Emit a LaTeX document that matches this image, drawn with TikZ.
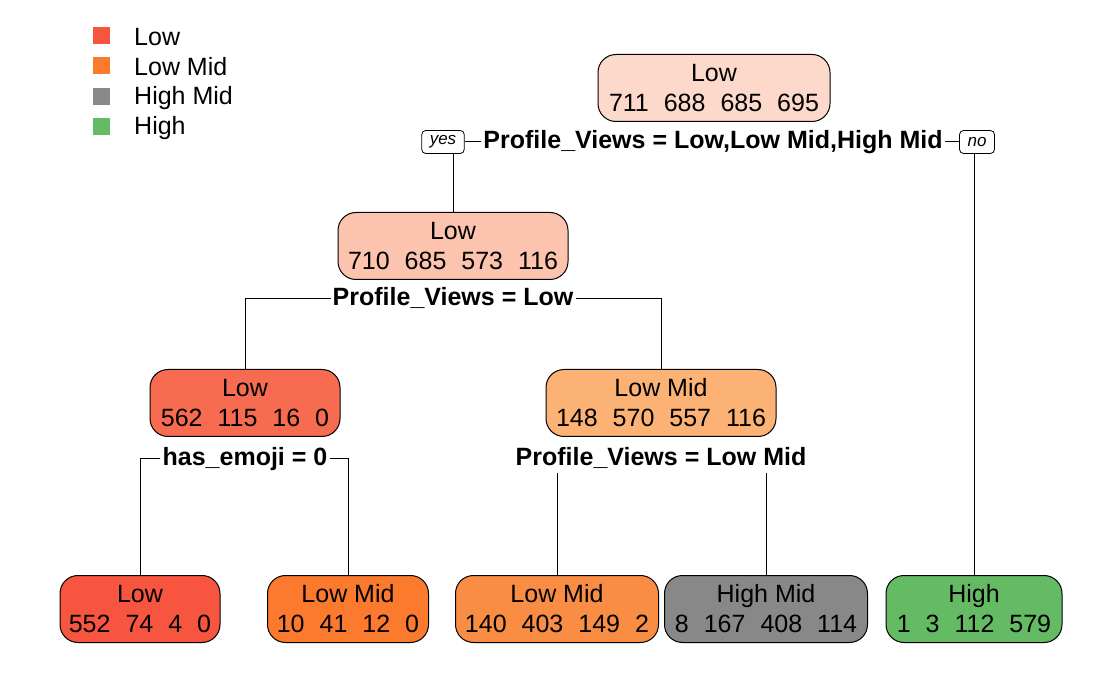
\documentclass[tikz,border=0pt]{standalone}
\usepackage{fontspec}
\setmainfont{Liberation Sans}
\usetikzlibrary{calc}
\definecolor{rootfill}{HTML}{FDD9CB}
\definecolor{lowfill}{HTML}{FCC3AE}
\definecolor{lowleftfill}{HTML}{F76B50}
\definecolor{midfill}{HTML}{FCB275}
\definecolor{lowcol}{HTML}{F75540}
\definecolor{lowmidcol}{HTML}{FC7A2E}
\definecolor{lowmidleaf}{HTML}{FA8D44}
\definecolor{highmidcol}{HTML}{888888}
\definecolor{highcol}{HTML}{65BB64}
\newcommand{\gp}{\hspace{0.6em}}
\newcommand{\treefont}{\fontsize{25}{30}\selectfont}
\newcommand{\boxh}{67pt}
\tikzset{
  treebox/.style={draw, line width=1pt, rounded corners=18pt,
    minimum height=\boxh, inner sep=0pt, align=center, font=\treefont},
  splitlabel/.style={font=\bfseries\treefont, inner sep=2pt,
    text height=18pt, text depth=5pt},
  answer/.style={draw, line width=0.8pt, rounded corners=4pt, fill=white,
    font=\itshape\fontsize{17}{19}\selectfont, minimum height=23pt,
    inner xsep=8pt, inner ysep=0pt},
  keybox/.style={minimum size=17pt, inner sep=0pt},
  keylabel/.style={anchor=west, inner sep=0pt, font=\treefont},
  branch/.style={line width=1pt}
}
\begin{document}
\begin{tikzpicture}[x=1pt,y=-1pt]
  % page
  \fill[white] (0,0) rectangle (1120,692);
  % legend part
  \node[keybox, fill=lowcol] (keylow) at (101,36) {};
  \node[keybox, fill=lowmidcol] (keylowmid) at (101,66) {};
  \node[keybox, fill=highmidcol] (keyhighmid) at (101,97) {};
  \node[keybox, fill=highcol] (keyhigh) at (101,127) {};
  \node[keylabel] at (134,37) {Low};
  \node[keylabel] at (134,67) {Low Mid};
  \node[keylabel] at (134,98) {High Mid};
  \node[keylabel] at (134,128) {High};
  % root part
  \node[treebox, fill=rootfill, minimum width=232pt] (root) at (714,88)
    {Low\\711\gp 688\gp 685\gp 695};
  \node[splitlabel] (rootsplit) at (713,142)
    {Profile\_Views = Low,Low Mid,High Mid};
  \node[answer] (yes) at (443,142) {yes};
  \node[answer] (no) at (977,142) {no};
  % second level part
  \node[treebox, fill=lowfill, minimum width=230pt] (views) at (453,246)
    {Low\\710\gp 685\gp 573\gp 116};
  \node[splitlabel] (viewssplit) at (453,299) {Profile\_Views = Low};
  % third level part
  \node[treebox, fill=lowleftfill, minimum width=190pt] (emoji) at (245,403)
    {Low\\562\gp 115\gp 16\gp 0};
  \node[splitlabel] (emojisplit) at (245,459) {has\_emoji = 0};
  \node[treebox, fill=midfill, minimum width=230pt] (midviews) at (661,403)
    {Low Mid\\148\gp 570\gp 557\gp 116};
  \node[splitlabel] (midsplit) at (661,459) {Profile\_Views = Low Mid};
  % leaf part
  \node[treebox, fill=lowcol, minimum width=160pt] (leafa) at (140,609)
    {Low\\552\gp 74\gp 4\gp 0};
  \node[treebox, fill=lowmidcol, minimum width=161pt] (leafb) at (348,609)
    {Low Mid\\10\gp 41\gp 12\gp 0};
  \node[treebox, fill=lowmidleaf, minimum width=203pt] (leafc) at (557,609)
    {Low Mid\\140\gp 403\gp 149\gp 2};
  \node[treebox, fill=highmidcol, minimum width=203pt] (leafd) at (766,609)
    {High Mid\\8\gp 167\gp 408\gp 114};
  \node[treebox, fill=highcol, minimum width=176pt] (leafe) at (974,609)
    {High\\1\gp 3\gp 112\gp 579};
  % branches
  \draw[branch] (yes.east) -- (rootsplit.west);
  \draw[branch] (rootsplit.east) -- (no.west);
  \draw[branch] (yes.south -| views.north) -- (views.north);
  \draw[branch] (no.south -| leafe.north) -- (leafe.north);
  \draw[branch] (viewssplit.west) -| (emoji.north);
  \draw[branch] (viewssplit.east) -| (midviews.north);
  \draw[branch] (emojisplit.west) -| (leafa.north);
  \draw[branch] (emojisplit.east) -| (leafb.north);
  \draw[branch] (midsplit.south -| leafc.north) -- (leafc.north);
  \draw[branch] (midsplit.south -| leafd.north) -- (leafd.north);
\end{tikzpicture}
\end{document}
